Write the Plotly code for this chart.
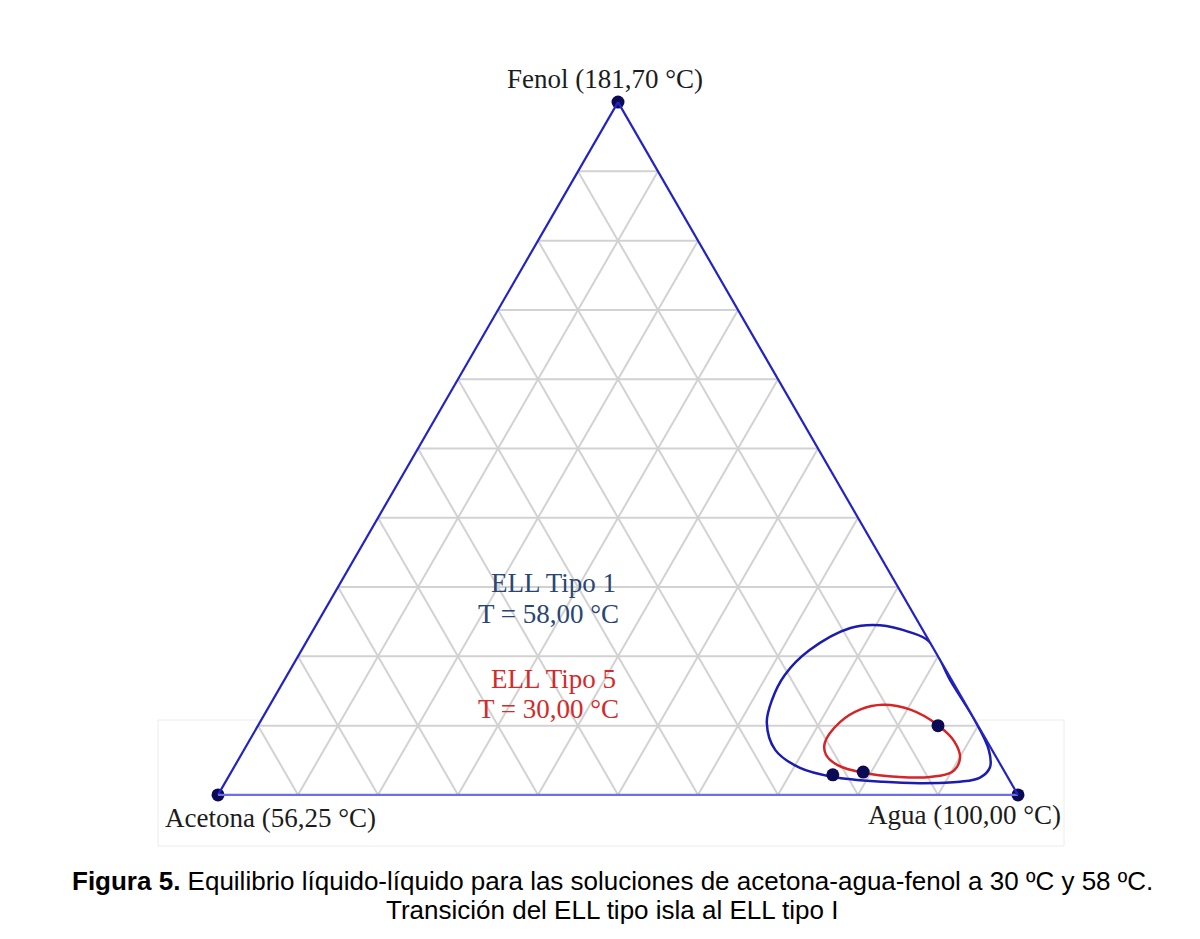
import plotly.graph_objects as go

# ternary fractions: fenol (top), acetona (bottom left), agua (bottom right)
fenol_58 = [0.221, 0.166, 0.108, 0.065, 0.040, 0.025, 0.019, 0.017, 0.019, 0.026, 0.039, 0.065,
            0.104, 0.137, 0.173, 0.209, 0.241, 0.245, 0.235, 0.221]
acetona_58 = [0.000, 0.002, 0.000, 0.004, 0.015, 0.035, 0.063, 0.114, 0.159, 0.218, 0.253, 0.271,
              0.262, 0.239, 0.205, 0.156, 0.089, 0.050, 0.018, 0.000]

fenol_30 = [0.075, 0.105, 0.123, 0.130, 0.123, 0.101, 0.077, 0.053, 0.033, 0.026, 0.026, 0.032,
            0.043, 0.058, 0.075]
acetona_30 = [0.204, 0.170, 0.136, 0.104, 0.073, 0.050, 0.041, 0.046, 0.066, 0.097, 0.135, 0.178,
              0.204, 0.211, 0.204]

# points marked on the curves
fenol_pts = [0.029, 0.033, 0.100]
acetona_pts = [0.217, 0.177, 0.050]

# pure components
fenol_v = [1, 0, 0]
acetona_v = [0, 1, 0]

def agua(fen, ace):
  return [round(1 - f - a, 3) for f, a in zip(fen, ace)]

fig = go.Figure()

fig.add_trace(go.Scatterternary(a = fenol_58, b = acetona_58, c = agua(fenol_58, acetona_58),
                                mode = 'lines', line = dict(color = '#1c1cb0', width = 2.5, shape = 'spline', smoothing = 1),
                                hoverinfo = 'skip'))
fig.add_trace(go.Scatterternary(a = fenol_30, b = acetona_30, c = agua(fenol_30, acetona_30),
                                mode = 'lines', line = dict(color = '#d42626', width = 2.5, shape = 'spline', smoothing = 1),
                                hoverinfo = 'skip'))
fig.add_trace(go.Scatterternary(a = fenol_pts + fenol_v, b = acetona_pts + acetona_v,
                                c = agua(fenol_pts + fenol_v, acetona_pts + acetona_v),
                                mode = 'markers', marker = dict(color = '#0b0b55', size = 13),
                                cliponaxis = False))

grid = dict(showticklabels = False, ticks = '', dtick = 0.1, showgrid = True,
            gridcolor = '#d2d2d2', gridwidth = 1.6, linewidth = 2.2, title = dict(text = ''))

#The page body adds an 8px offset, so margins are pulled in by 8
fig.update_layout(
  width = 1200, height = 939,
  paper_bgcolor = 'white',
  showlegend = False,
  margin = dict(l = 210, r = 190, t = 94, b = 152),
  ternary = dict(
    bgcolor = 'white',
    sum = 1,
    aaxis = dict(grid, linecolor = '#2323c2'),
    baxis = dict(grid, linecolor = '#6e6ee8'),
    caxis = dict(grid, linecolor = '#2323c2'),
  ),
)

#Convert reference pixel positions into paper coordinates (plot area 218..1018 x 102..795)
def px(x): return (x - 218) / 800
def py(y): return (795 - y) / 693

#faint frame left over from the original figure
fig.add_shape(type = 'rect', xref = 'paper', yref = 'paper', x0 = px(158), x1 = px(1064), y0 = py(846), y1 = py(720),
              line = dict(color = '#ececec', width = 1), layer = 'below')

serif = 'Liberation Serif'
labels = [
  ('Fenol (181,70 °C)', 605, 79, '#1c1c1c'),
  ('Acetona (56,25 °C)', 270, 818, '#1c1c1c'),
  ('Agua (100,00 °C)', 964, 815, '#1c1c1c'),
  ('ELL Tipo 1', 553, 583, '#2a4672'),
  ('T = 58,00 °C', 548, 614, '#2a4672'),
  ('ELL Tipo 5', 553, 679, '#d42a2a'),
  ('T = 30,00 °C', 548, 709, '#d42a2a'),
]
for text, x, y, col in labels:
  fig.add_annotation(text = text, x = px(x), y = py(y), xref = 'paper', yref = 'paper',
                     showarrow = False, xanchor = 'center', yanchor = 'middle',
                     font = dict(family = serif, size = 27, color = col))

fig.add_annotation(text = '<b>Figura 5.</b> Equilibrio líquido-líquido para las soluciones de acetona-agua-fenol a 30 ºC y 58 ºC.',
                   x = px(612), y = py(881), xref = 'paper', yref = 'paper', showarrow = False,
                   xanchor = 'center', yanchor = 'middle',
                   font = dict(family = 'Liberation Sans', size = 26, color = 'black'))
fig.add_annotation(text = 'Transición del ELL tipo isla al ELL tipo I',
                   x = px(612), y = py(910), xref = 'paper', yref = 'paper', showarrow = False,
                   xanchor = 'center', yanchor = 'middle',
                   font = dict(family = 'Liberation Sans', size = 26, color = 'black'))

fig.write_html('out.html')
